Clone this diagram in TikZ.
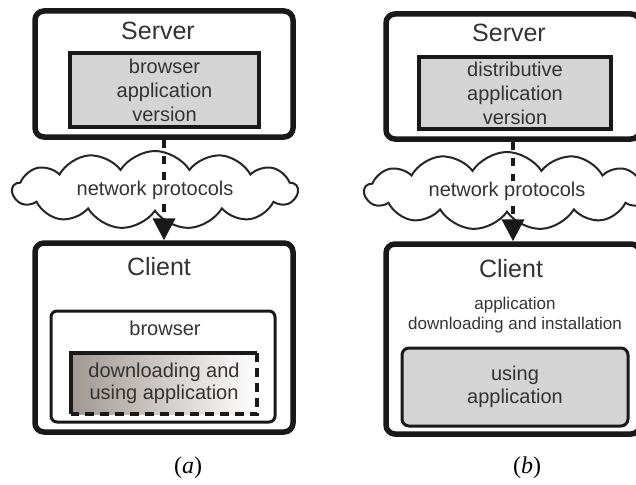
\documentclass[tikz,border=0pt]{standalone}
\usepackage{fontspec}
\setmainfont{Liberation Sans}
\newfontfamily\capfont{Liberation Serif}
\usetikzlibrary{shapes.symbols,arrows.meta,positioning,calc}
\tikzset{
    tier/.style={
        rectangle, rounded corners=9pt, draw=black!90, line width=5.5pt,
        inner sep=0pt
    },
    title/.style={
        inner sep=0pt, text=black!80, font=\fontsize{25}{30}\selectfont
    },
    txt/.style={
        inner sep=0pt, align=center, text=black!80,
        font=\fontsize{20}{24}\selectfont
    },
    smalltxt/.style={
        inner sep=0pt, align=center, text=black!80,
        font=\fontsize{17}{20}\selectfont
    },
    appbox/.style={
        rectangle, draw=black!90, fill=black!17, line width=3.5pt,
        align=center, text=black!80, font=\fontsize{20}{24}\selectfont
    },
    usebox/.style={
        rectangle, rounded corners=7pt, draw=black!90, fill=black!17,
        line width=3pt, align=center, text=black!80,
        font=\fontsize{20}{23}\selectfont
    },
    browserbox/.style={
        rectangle, rounded corners=6pt, draw=black!90, line width=3pt
    },
    runbox/.style={
        rectangle, shading=axis, shading angle=90,
        left color={rgb,255:red,160;green,151;blue,146}, right color=white,
        align=center, text=black!80, font=\fontsize{20}{22}\selectfont
    },
    solidside/.style={draw=black!90, line width=3.5pt, line join=miter},
    dashside/.style={draw=black!90, line width=3.5pt, dash pattern=on 9pt off 6pt},
    net/.style={
        cloud, cloud puffs=13, cloud puff arc=115, cloud ignores aspect,
        draw=black!85, line width=2pt, fill=white, inner sep=0pt
    },
    nettext/.style={
        fill=white, inner sep=1pt, text=black!80,
        font=\fontsize{20}{24}\selectfont
    },
    link/.style={
        draw=black!90, line width=4pt, dash pattern=on 8pt off 8pt,
        -{Triangle[width=22pt,length=22pt]}
    },
    caption/.style={inner sep=0pt, font=\capfont\fontsize{24}{28}\selectfont}
}
\begin{document}
\begin{tikzpicture}[x=1pt, y=-1pt]
\clip (0,0) rectangle (636,484);

% (a) browser version
\node[tier, minimum width=258pt, minimum height=126pt] (srvA) at (164,74) {};
\node[title, anchor=base] (srvAname) at (158,40) {Server};
\node[appbox, minimum width=189pt, minimum height=74pt] (verA) at (164.5,90)
    {browser\\application\\version};
\node[net, minimum width=285pt, minimum height=78pt] (cloudA) at (155,190) {};
\node[tier, minimum width=258pt, minimum height=189pt] (cliA) at (164,337.5) {};
\node[title, anchor=base] (cliAname) at (159,275) {Client};
\node[browserbox, minimum width=224pt, minimum height=111pt] (brA) at (163,366.5) {};
\node[txt, anchor=base] (brAname) at (165,335) {browser};
\node[runbox, minimum width=186pt, minimum height=61pt] (dlA) at (164,383.5)
    {downloading and\\using application};
\draw[solidside] (dlA.south west) -- (dlA.north west) -- (dlA.north east);
\draw[dashside]  (dlA.north east) -- (dlA.south east) -- (dlA.south west);

\draw[link] (srvA.south) -- (cliA.north);
\node[nettext] (netA) at (cloudA.center) {network protocols};
\node[caption] (capA) at (188,468) {(\textit{a})};

% (b) distributive version
\node[tier, minimum width=254pt, minimum height=125pt] (srvB) at (513,76.5) {};
\node[title, anchor=base] (srvBname) at (509,42) {Server};
\node[appbox, minimum width=192pt, minimum height=72pt] (verB) at (515,93)
    {distributive\\application\\version};
\node[net, minimum width=285pt, minimum height=78pt] (cloudB) at (507,191) {};
\node[tier, minimum width=254pt, minimum height=190pt] (cliB) at (513,339) {};
\node[title, anchor=base] (cliBname) at (511,277) {Client};
\node[smalltxt] (instB) at (515,315) {application\\downloading and installation};
\node[usebox, minimum width=226pt, minimum height=78pt] (useB) at (515,387)
    {using\\application};

\draw[link] (srvB.south) -- (cliB.north);
\node[nettext] (netB) at (cloudB.center) {network protocols};
\node[caption] (capB) at (527,468) {(\textit{b})};

\end{tikzpicture}
\end{document}
